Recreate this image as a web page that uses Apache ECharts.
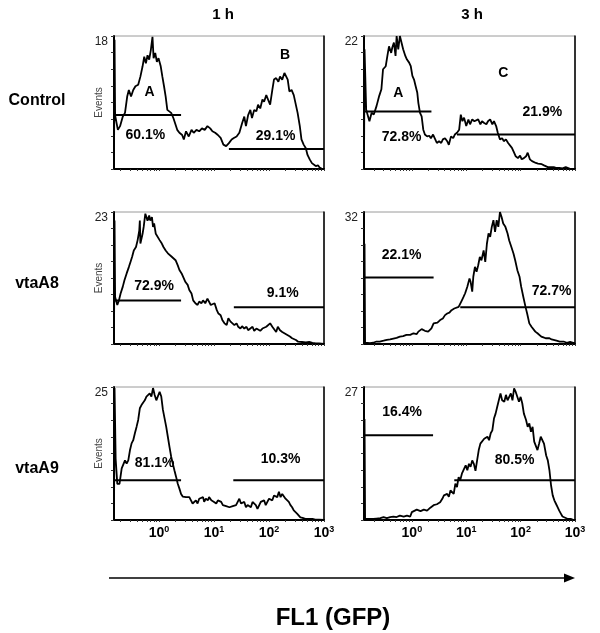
<!DOCTYPE html>
<html><head><meta charset="utf-8">
<script src="https://cdn.jsdelivr.net/npm/echarts@6/dist/echarts.min.js"></script>
<style>html,body{margin:0;padding:0;background:#fff}#c{width:600px;height:633px}</style>
</head><body><div id="c"></div><script>
// ---------- data (x = log10 FL1 intensity, y = events) ----------
const colTitles = ['1 h', '3 h'];
const rowTitles = ['Control', 'vtaA8', 'vtaA9'];
const axisTitle = 'FL1 (GFP)';
const yName = 'Events';
const xTickDecades = [0, 1, 2, 3];
const xMinLeft = -0.82, xMinRight = -0.88, xMax = 3;
const yMaxes = [18, 22, 23, 32, 25, 27];

const ctrl1h = [[-0.82,0],[-0.81,17.5],[-0.80,7.3],[-0.75,5.3],[-0.71,5.8],[-0.66,7.1],[-0.62,7.6],[-0.58,9.8],[-0.55,10.7],[-0.51,9.8],[-0.47,10.7],[-0.43,11.2],[-0.38,11.4],[-0.34,12.5],[-0.30,13.9],[-0.27,15.2],[-0.24,14.3],[-0.21,15.4],[-0.18,14.8],[-0.15,16.1],[-0.12,17.9],[-0.10,15.0],[-0.07,15.7],[-0.04,14.5],[-0.01,15.0],[0.03,13.9],[0.06,12.5],[0.09,11.2],[0.12,9.8],[0.15,8.0],[0.18,8.0],[0.22,7.6],[0.26,6.9],[0.29,6.7],[0.33,5.3],[0.37,4.9],[0.42,4.6],[0.45,4.0],[0.49,5.1],[0.54,4.4],[0.59,5.3],[0.63,4.9],[0.68,5.3],[0.73,5.1],[0.78,5.5],[0.83,5.3],[0.88,5.8],[0.93,5.5],[0.97,5.1],[1.02,4.9],[1.07,4.6],[1.12,4.2],[1.17,3.3],[1.22,3.1],[1.27,3.5],[1.32,4.0],[1.36,4.2],[1.41,4.4],[1.46,4.9],[1.51,6.2],[1.55,7.1],[1.58,5.8],[1.62,7.3],[1.66,8.0],[1.69,6.9],[1.73,8.0],[1.77,7.8],[1.80,8.7],[1.84,8.2],[1.88,9.4],[1.91,9.1],[1.95,10.0],[1.98,9.8],[2.02,8.7],[2.06,10.7],[2.09,12.1],[2.13,12.3],[2.17,11.8],[2.20,12.5],[2.24,12.1],[2.28,13.0],[2.30,13.2],[2.34,12.1],[2.37,10.5],[2.41,10.7],[2.45,10.0],[2.48,9.8],[2.52,7.6],[2.56,5.8],[2.59,4.0],[2.63,3.3],[2.67,2.8],[2.70,1.9],[2.74,1.3],[2.78,0.8],[2.81,0.6],[2.85,0.4],[2.89,0.5],[2.92,0.2],[2.97,0]];
const ctrl3h = [[-0.88,0],[-0.87,19.8],[-0.84,9.8],[-0.78,7.9],[-0.74,9.3],[-0.70,9.0],[-0.65,10.4],[-0.60,12.1],[-0.56,13.2],[-0.53,16.5],[-0.48,17.0],[-0.45,18.7],[-0.42,20.3],[-0.38,19.2],[-0.36,20.1],[-0.33,20.9],[-0.30,18.7],[-0.28,22.0],[-0.25,19.8],[-0.22,22.0],[-0.19,22.0],[-0.16,19.8],[-0.12,18.7],[-0.09,18.1],[-0.05,17.6],[-0.02,17.0],[0.01,15.4],[0.04,14.8],[0.07,13.7],[0.10,12.6],[0.12,10.9],[0.15,9.3],[0.18,8.7],[0.21,6.5],[0.24,5.7],[0.28,5.4],[0.32,5.5],[0.35,5.1],[0.39,5.7],[0.43,4.9],[0.46,4.3],[0.50,4.6],[0.54,4.3],[0.57,4.9],[0.61,5.1],[0.65,4.6],[0.68,4.0],[0.72,5.4],[0.76,5.1],[0.79,5.7],[0.83,6.0],[0.87,6.5],[0.90,9.0],[0.93,7.9],[0.96,8.5],[1.00,7.1],[1.04,8.2],[1.07,7.4],[1.11,8.2],[1.15,7.9],[1.18,7.6],[1.22,8.2],[1.26,7.4],[1.29,7.9],[1.33,7.6],[1.37,7.4],[1.40,7.9],[1.44,8.2],[1.48,7.4],[1.51,7.9],[1.55,7.1],[1.58,6.0],[1.62,4.9],[1.66,5.1],[1.69,4.6],[1.73,4.9],[1.77,4.3],[1.80,4.0],[1.84,3.5],[1.88,2.7],[1.91,2.1],[1.95,1.8],[1.99,2.2],[2.02,1.6],[2.06,1.8],[2.10,2.1],[2.13,2.7],[2.17,1.6],[2.21,1.3],[2.24,1.4],[2.28,1.0],[2.32,0.9],[2.35,1.1],[2.39,0.8],[2.43,0.6],[2.46,0.5],[2.50,0.3],[2.54,0.3],[2.57,0.2],[2.61,0.3],[2.65,0.2],[2.71,0.2],[2.77,0.1],[2.83,0.3],[2.86,0.1],[2.92,0],[3.0,0]];
const a8_1h = [[-0.82,0],[-0.81,21.5],[-0.80,8.2],[-0.76,6.8],[-0.73,7.6],[-0.70,8.8],[-0.66,10.0],[-0.63,11.1],[-0.59,12.3],[-0.55,13.4],[-0.52,14.3],[-0.49,15.2],[-0.46,16.3],[-0.42,16.9],[-0.39,18.1],[-0.36,19.8],[-0.35,21.5],[-0.34,17.5],[-0.30,19.2],[-0.28,20.4],[-0.25,22.7],[-0.23,23.0],[-0.21,21.5],[-0.18,22.4],[-0.16,21.5],[-0.13,22.1],[-0.11,20.4],[-0.09,21.0],[-0.06,19.2],[-0.03,19.2],[0.01,18.1],[0.05,17.5],[0.08,16.9],[0.12,16.3],[0.16,15.8],[0.19,15.5],[0.23,15.2],[0.26,14.9],[0.30,14.6],[0.34,13.7],[0.37,12.9],[0.41,12.3],[0.44,12.0],[0.48,10.8],[0.52,10.3],[0.55,9.4],[0.59,8.8],[0.62,7.6],[0.66,7.1],[0.70,6.8],[0.73,7.4],[0.77,7.1],[0.80,7.6],[0.84,7.1],[0.88,7.9],[0.90,8.2],[0.94,6.8],[0.97,6.5],[1.01,7.1],[1.05,5.9],[1.08,5.3],[1.12,5.0],[1.15,4.2],[1.19,3.6],[1.23,3.3],[1.26,4.5],[1.30,3.9],[1.33,3.6],[1.37,3.3],[1.41,3.6],[1.44,3.0],[1.48,2.7],[1.51,3.1],[1.55,2.7],[1.59,3.0],[1.62,2.4],[1.66,2.7],[1.70,3.0],[1.73,2.3],[1.77,2.7],[1.80,2.4],[1.84,2.3],[1.88,2.7],[1.91,2.4],[1.95,3.0],[1.98,2.7],[2.02,3.6],[2.06,3.0],[2.09,2.7],[2.13,2.1],[2.16,3.0],[2.20,2.4],[2.24,2.1],[2.27,2.0],[2.31,1.7],[2.34,1.6],[2.38,1.3],[2.42,1.0],[2.45,0.8],[2.49,0.7],[2.53,0.4],[2.56,0.2],[2.60,0.35],[2.63,0.2],[2.67,0.3],[2.73,0.35],[2.79,0.2],[2.85,0.1],[2.91,0.1],[3.0,0]];
const a8_3h = [[-0.88,0],[-0.87,24.3],[-0.86,0.3],[-0.83,0.3],[-0.77,0.2],[-0.71,0.3],[-0.65,0.6],[-0.59,0.6],[-0.52,0.8],[-0.46,1.0],[-0.40,1.1],[-0.34,1.3],[-0.28,1.5],[-0.22,1.8],[-0.16,1.9],[-0.10,2.2],[-0.03,2.2],[0.03,2.6],[0.09,2.4],[0.12,3.0],[0.18,3.6],[0.24,3.2],[0.30,3.0],[0.36,3.8],[0.40,5.0],[0.43,4.6],[0.47,5.2],[0.52,5.8],[0.57,6.2],[0.61,7.0],[0.65,7.4],[0.69,7.6],[0.73,8.2],[0.78,8.6],[0.81,9.0],[0.86,9.0],[0.89,9.4],[0.92,10.6],[0.95,11.4],[0.98,12.3],[1.02,13.9],[1.06,15.9],[1.08,15.1],[1.11,12.7],[1.13,16.3],[1.16,18.7],[1.19,17.5],[1.22,19.1],[1.25,21.1],[1.28,20.3],[1.32,22.7],[1.35,19.9],[1.38,24.3],[1.41,26.8],[1.44,26.0],[1.47,28.4],[1.50,30.0],[1.53,27.2],[1.56,30.0],[1.59,28.4],[1.62,32.0],[1.65,30.8],[1.68,29.2],[1.72,28.4],[1.76,26.8],[1.79,25.1],[1.83,23.5],[1.87,21.9],[1.90,20.3],[1.94,17.9],[1.98,16.3],[2.01,13.9],[2.05,11.4],[2.09,9.0],[2.12,7.4],[2.16,5.0],[2.20,4.2],[2.23,3.8],[2.27,3.0],[2.31,2.6],[2.34,2.2],[2.38,1.8],[2.42,1.6],[2.46,1.4],[2.49,1.8],[2.53,1.4],[2.57,1.1],[2.60,1.0],[2.66,0.8],[2.72,0.6],[2.79,0.6],[2.85,0.3],[2.91,0.5],[2.97,0.3],[3.0,0.2]];
const a9_1h = [[-0.82,0],[-0.81,24.8],[-0.79,11.5],[-0.76,6.8],[-0.72,6.8],[-0.68,9.7],[-0.65,10.0],[-0.62,11.2],[-0.59,10.6],[-0.56,11.2],[-0.53,13.1],[-0.50,14.4],[-0.47,15.0],[-0.44,16.3],[-0.41,17.5],[-0.38,18.8],[-0.35,21.0],[-0.32,21.6],[-0.29,21.9],[-0.26,22.5],[-0.23,23.2],[-0.20,23.5],[-0.17,23.8],[-0.14,23.2],[-0.11,24.8],[-0.09,25.0],[-0.08,23.5],[-0.05,22.5],[-0.02,22.2],[0.01,24.1],[0.04,23.2],[0.07,20.7],[0.10,19.1],[0.13,17.5],[0.16,15.6],[0.19,13.7],[0.22,11.9],[0.25,10.6],[0.28,9.3],[0.31,8.1],[0.34,6.8],[0.37,5.9],[0.40,4.9],[0.43,4.4],[0.46,4.6],[0.49,4.3],[0.52,4.0],[0.55,4.3],[0.58,3.7],[0.61,3.1],[0.64,3.4],[0.67,3.7],[0.70,3.1],[0.73,4.0],[0.76,3.7],[0.80,4.3],[0.82,3.4],[0.85,4.0],[0.89,3.7],[0.91,4.3],[0.95,3.7],[0.98,4.0],[1.00,3.4],[1.04,3.1],[1.07,3.7],[1.10,4.0],[1.13,3.4],[1.16,2.8],[1.22,2.6],[1.28,2.4],[1.34,2.6],[1.40,2.8],[1.43,3.4],[1.46,4.0],[1.49,3.1],[1.52,2.8],[1.55,3.4],[1.58,2.4],[1.61,2.8],[1.64,3.1],[1.67,2.4],[1.70,3.4],[1.73,3.7],[1.76,2.8],[1.79,2.1],[1.82,2.4],[1.85,3.4],[1.88,3.1],[1.91,3.7],[1.94,2.8],[1.97,3.4],[2.00,4.0],[2.03,4.3],[2.06,3.7],[2.09,4.6],[2.12,4.9],[2.15,4.3],[2.18,5.3],[2.21,4.3],[2.24,4.9],[2.27,4.6],[2.30,4.0],[2.33,4.3],[2.36,3.4],[2.39,2.8],[2.42,2.4],[2.45,1.8],[2.48,1.5],[2.51,1.2],[2.54,0.9],[2.57,0.5],[2.61,0.4],[2.66,0.2],[2.72,0.2],[2.79,0.2],[2.84,0.05],[2.91,0.05],[3.0,0]];
const a9_3h = [[-0.88,0],[-0.87,20.5],[-0.86,0.3],[-0.83,0.2],[-0.77,0.2],[-0.71,0.2],[-0.65,0.3],[-0.58,0.4],[-0.52,0.6],[-0.46,0.4],[-0.40,0.6],[-0.34,0.7],[-0.28,0.6],[-0.22,0.9],[-0.15,0.7],[-0.09,0.9],[-0.06,1.3],[-0.03,0.7],[0.00,1.6],[0.03,1.9],[0.09,2.1],[0.16,1.8],[0.22,2.1],[0.28,1.9],[0.31,1.6],[0.34,2.5],[0.40,3.0],[0.43,2.6],[0.46,3.2],[0.49,3.0],[0.52,3.6],[0.56,4.3],[0.59,5.0],[0.62,4.7],[0.65,5.3],[0.68,4.7],[0.71,6.0],[0.74,6.4],[0.77,5.3],[0.80,7.4],[0.83,6.7],[0.86,8.7],[0.89,8.1],[0.92,9.4],[0.96,10.4],[0.99,11.1],[1.02,10.1],[1.05,11.4],[1.08,10.8],[1.11,12.1],[1.14,11.4],[1.17,10.0],[1.20,12.1],[1.23,14.2],[1.26,15.5],[1.29,15.9],[1.33,16.5],[1.36,16.2],[1.39,16.9],[1.42,16.2],[1.45,17.6],[1.48,18.2],[1.51,20.6],[1.54,21.6],[1.57,23.0],[1.60,22.6],[1.63,25.7],[1.66,24.3],[1.70,24.0],[1.73,25.4],[1.76,24.3],[1.79,24.6],[1.82,25.7],[1.85,24.3],[1.88,26.7],[1.91,26.0],[1.94,25.7],[1.97,24.0],[2.00,25.0],[2.03,23.7],[2.06,21.6],[2.10,20.3],[2.13,18.9],[2.16,19.6],[2.19,17.9],[2.22,18.9],[2.25,15.9],[2.28,16.2],[2.31,14.2],[2.34,15.5],[2.37,16.9],[2.40,16.5],[2.43,15.5],[2.47,13.1],[2.50,12.1],[2.53,10.1],[2.56,7.0],[2.59,5.0],[2.62,4.0],[2.65,3.3],[2.68,2.6],[2.71,1.9],[2.74,1.3],[2.77,0.7],[2.80,0.4],[2.87,0.2],[2.93,0.2],[2.98,0],[3.0,0]];

// gates: [xStart, xEnd, y]
const gCtrl1h = [[-0.82,0.40,7.3],[1.27,3.0,2.7]];
const gCtrl3h = [[-0.88,0.36,9.5],[0.83,3.0,5.7]];
const gA8_1h  = [[-0.82,0.40,7.6],[1.36,3.0,6.4]];
const gA8_3h  = [[-0.88,0.40,16.1],[0.89,3.0,8.9]];
const gA9_1h  = [[-0.82,0.40,7.45],[1.35,3.0,7.45]];
const gA9_3h  = [[-0.88,0.39,17.2],[0.78,3.0,8.05]];

// annotations: [x, y, text]
const nCtrl1h = [[-0.175,10.4,'A'],[-0.25,4.6,'60.1%'],[2.29,15.4,'B'],[2.12,4.5,'29.1%']];
const nCtrl3h = [[-0.25,12.6,'A'],[-0.19,5.3,'72.8%'],[1.68,15.8,'C'],[2.40,9.45,'21.9%']];
const nA8_1h  = [[-0.09,10.1,'72.9%'],[2.25,8.9,'9.1%']];
const nA8_3h  = [[-0.19,21.5,'22.1%'],[2.57,12.7,'72.7%']];
const nA9_1h  = [[-0.08,10.6,'81.1%'],[2.21,11.5,'10.3%']];
const nA9_3h  = [[-0.18,21.8,'16.4%'],[1.89,12.1,'80.5%']];

// ---------- build ----------
const FONT = 'Arial, "Liberation Sans", Helvetica, sans-serif';
const curves = [ctrl1h, ctrl3h, a8_1h, a8_3h, a9_1h, a9_3h];
const gates = [gCtrl1h, gCtrl3h, gA8_1h, gA8_3h, gA9_1h, gA9_3h];
const notes = [nCtrl1h, nCtrl3h, nA8_1h, nA8_3h, nA9_1h, nA9_3h];
const colLeft = [114, 364], colWidth = [210, 211];
const rowTop = [36, 212, 387], rowHeight = [133, 132, 133];
const xMins = [xMinLeft, xMinRight];

function logTicks(min, max) {
  const out = [];
  for (let d = -1; d <= 3; d++) for (let m = 1; m <= 9; m++) {
    const v = d + Math.log10(m);
    if (v >= min - 1e-9 && v <= max + 1e-9) out.push(v);
  }
  return out;
}

const grid = [], xAxis = [], yAxis = [], series = [];
for (let i = 0; i < 6; i++) {
  const row = Math.floor(i / 2), col = i % 2;
  const ymax = yMaxes[i];
  grid.push({ left: colLeft[col], top: rowTop[row], width: colWidth[col], height: rowHeight[row],
    show: true, borderColor: '#9a9a9a', borderWidth: 1, containLabel: false });
  xAxis.push({ type: 'value', gridIndex: i, min: xMins[col], max: xMax,
    axisLine: { show: true, onZero: false, lineStyle: { color: '#000', width: 2 } },
    axisTick: { show: true, length: 2, customValues: logTicks(xMins[col], xMax), lineStyle: { color: '#333', width: 1 } },
    axisLabel: { show: row === 2, customValues: xTickDecades, margin: 5,
      formatter: v => '{b|10}{s|' + Math.round(v) + '}',
      rich: { b: { fontFamily: FONT, fontSize: 14, fontWeight: 'bold', color: '#000' },
              s: { fontFamily: FONT, fontSize: 9, fontWeight: 'bold', color: '#000', padding: [0, 0, 8, 0] } } },
    splitLine: { show: false } });
  yAxis.push({ type: 'value', gridIndex: i, min: 0, max: ymax, interval: ymax / 8,
    name: col === 0 ? yName : '', nameLocation: 'middle', nameGap: 10, nameMoveOverlap: false,
    nameTextStyle: { fontFamily: FONT, fontSize: 10, color: '#444' },
    axisLine: { show: true, onZero: false, lineStyle: { color: '#000', width: 2 } },
    axisTick: { show: true, length: 3, lineStyle: { color: '#333' } },
    axisLabel: { show: true, margin: 6, verticalAlign: 'top', fontFamily: FONT, fontSize: 12, color: '#222',
      formatter: v => (Math.abs(v - ymax) < 1e-6 ? String(ymax) : '') },
    splitLine: { show: false } });
  yAxis.push({ type: 'value', gridIndex: i, min: 0, max: ymax, position: 'right',
    axisLine: { show: true, onZero: false, lineStyle: { color: '#000', width: 1.5 } },
    axisTick: { show: false }, axisLabel: { show: false }, splitLine: { show: false } });

  series.push({ type: 'line', xAxisIndex: i, yAxisIndex: 2 * i, data: curves[i], showSymbol: false,
    symbol: 'none', clip: true, lineStyle: { color: '#000', width: 1.8 }, animation: false });
  gates[i].forEach(g => series.push({ type: 'line', xAxisIndex: i, yAxisIndex: 2 * i,
    data: [[g[0], g[2]], [g[1], g[2]]], symbol: 'none', lineStyle: { color: '#000', width: 2 }, animation: false }));
  series.push({ type: 'scatter', xAxisIndex: i, yAxisIndex: 2 * i, data: notes[i], symbolSize: 0,
    encode: { x: 0, y: 1 }, animation: false, itemStyle: { opacity: 1, color: '#000' },
    label: { show: true, position: 'inside', formatter: p => p.data[2], opacity: 1,
      fontFamily: FONT, fontSize: 14, fontWeight: 'bold', color: '#000' } });
}

const title = [
  { text: colTitles[0], left: 218, top: 2, textAlign: 'center' },
  { text: colTitles[1], left: 467, top: 2, textAlign: 'center' },
  { text: rowTitles[0], left: 32, top: 88, textAlign: 'center' },
  { text: rowTitles[1], left: 32, top: 271, textAlign: 'center' },
  { text: rowTitles[2], left: 32, top: 456, textAlign: 'center' },
].map(t => Object.assign(t, { textStyle: { fontFamily: FONT, fontSize: t.top < 10 ? 15 : 16, fontWeight: 'bold', color: '#000' } }));
title.push({ text: axisTitle, left: 328, top: 601, textAlign: 'center',
  textStyle: { fontFamily: FONT, fontSize: 24, fontWeight: 'bold', color: '#000' } });

const chart = echarts.init(document.getElementById('c'), null, { renderer: 'canvas' });
chart.setOption({
  animation: false, backgroundColor: '#fff', title, grid, xAxis, yAxis, series,
  graphic: [
    { type: 'line', shape: { x1: 109, y1: 578, x2: 566, y2: 578 }, style: { stroke: '#000', lineWidth: 1.5 } },
    { type: 'polygon', shape: { points: [[564, 573.5], [575, 578], [564, 582.5]] }, style: { fill: '#000' } }
  ]
});
</script></body></html>
